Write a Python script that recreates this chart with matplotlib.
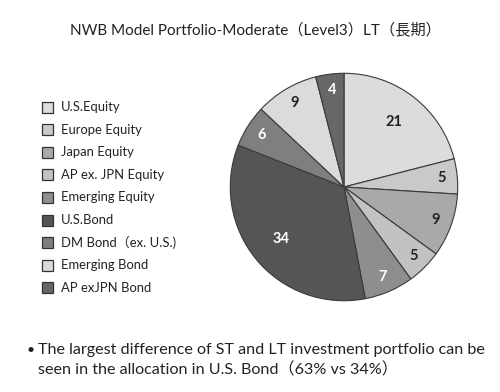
import numpy as np
import matplotlib.pyplot as plt

plt.rcParams['font.family'] = ['Lato', 'Noto Sans CJK JP', 'DejaVu Sans']

title = "NWB Model Portfolio-Moderate（Level3）LT（長期）"
categories = ["U.S.Equity", "Europe Equity", "Japan Equity", "AP ex. JPN Equity",
              "Emerging Equity", "U.S.Bond", "DM Bond（ex. U.S.)", "Emerging Bond",
              "AP exJPN Bond"]
# pie order, clockwise from 12 o'clock
pie_names = ["U.S.Equity", "Europe Equity", "Japan Equity", "AP ex. JPN Equity",
             "Emerging Equity", "U.S.Bond", "DM Bond（ex. U.S.)", "Emerging Bond",
             "AP exJPN Bond"]
values = [21, 5, 9, 5, 7, 34, 6, 9, 4]
colors = ["#dcdcdd", "#c9c9ca", "#a9a9aa", "#c2c2c3", "#8e8e8f",
          "#555556", "#7f7f80", "#dbdbdc", "#67676a"]
label_colors = ["#222222", "#222222", "#222222", "#222222", "white",
                "white", "white", "#222222", "white"]
note = "The largest difference of ST and LT investment portfolio can be\nseen in the allocation in U.S. Bond（63% vs 34%）"

fig = plt.figure(figsize=(5, 3.92), dpi=100)
W, H = 500, 392

fig.text(255 / W, 1 - 30 / H, title, ha='center', va='center', fontsize=11, color='#222222')

# pie
cx, cy, r = 344, 187, 116
ax = fig.add_axes([(cx - r) / W, (H - cy - r) / H, 2 * r / W, 2 * r / H])
wedges, _ = ax.pie(values, colors=colors, startangle=90, counterclock=False,
                   wedgeprops=dict(edgecolor='#3a3a3a', linewidth=0.8))
ax.set_xlim(-1.02, 1.02)
ax.set_ylim(-1.02, 1.02)
ax.set_axis_off()
for w, v, lc in zip(wedges, values, label_colors):
    mid = np.deg2rad((w.theta1 + w.theta2) / 2)
    d = 0.72 if v > 15 else 0.86
    ax.text(d * np.cos(mid), d * np.sin(mid), str(v), ha='center', va='center',
            fontsize=10.5, fontweight='bold', color=lc)

# legend
lax = fig.add_axes([0, 0, 1, 1], facecolor='none')
lax.set_xlim(0, W)
lax.set_ylim(H, 0)
lax.set_axis_off()
for i, name in enumerate(categories):
    y = 107 + i * 22.6
    c = colors[pie_names.index(name)]
    lax.add_patch(plt.Rectangle((42, y - 5.5), 11, 11, facecolor=c,
                                edgecolor='#333333', linewidth=0.9))
    lax.text(61, y, name, ha='left', va='center', fontsize=9.4, color='#222222')

lax.text(26, 350, "•", ha='left', va='center', fontsize=10, color='#222222')
lax.text(38, 360, note, ha='left', va='center', fontsize=11.6, color='#222222',
         linespacing=1.4)

fig.savefig("out.png", dpi=100)
